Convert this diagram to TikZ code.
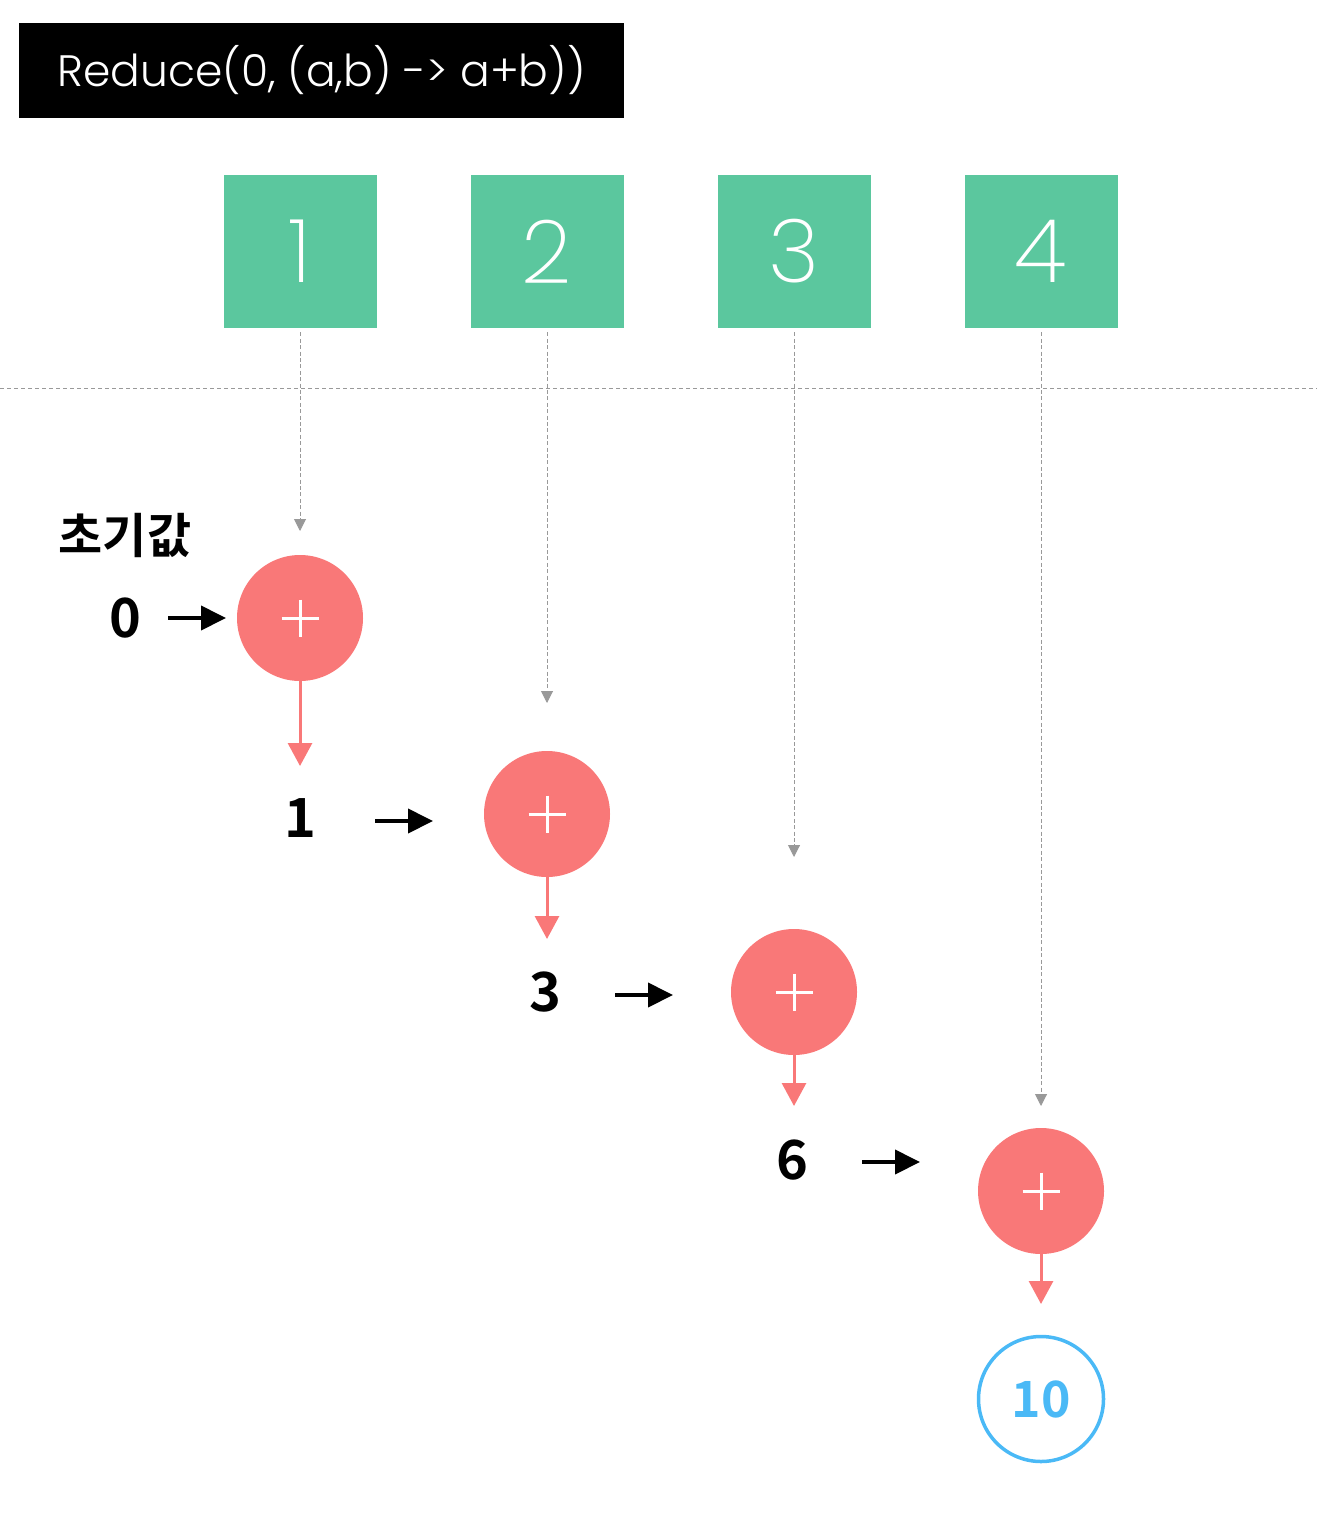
\documentclass[tikz,border=0pt]{standalone}
\usepackage{fontspec}
\setmainfont{Lato}
\newfontfamily\thinfont{Poppins Light}
\newfontfamily\xthinfont{Poppins ExtraLight}
\newfontfamily\krfont{Noto Sans CJK KR Bold}
\usetikzlibrary{arrows.meta}
\definecolor{boxgreen}{HTML}{5BC79E}
\definecolor{opred}{HTML}{F97878}
\definecolor{resblue}{HTML}{4AB9F6}
\definecolor{dashgray}{HTML}{999999}
\tikzset{
  titlebox/.style={fill=black, text=white, minimum width=302.5pt, minimum height=47.5pt, inner sep=0pt, font=\thinfont\fontsize{22}{22}\selectfont},
  numbox/.style={fill=boxgreen, text=white, minimum size=76.5pt, inner sep=0pt, font=\xthinfont\fontsize{44}{44}\selectfont},
  opcircle/.style={circle, fill=opred, minimum size=63pt, inner sep=0pt},
  rescircle/.style={circle, draw=resblue, line width=1.75pt, minimum size=62.5pt, inner sep=0pt, text=resblue, font=\krfont\fontsize{25}{25}\selectfont},
  valtext/.style={font=\krfont\fontsize{27}{27}\selectfont, inner sep=0pt},
  feedarrow/.style={dashgray, line width=0.5pt, dash pattern=on 2pt off 1.2pt, -{Triangle[length=6pt,width=6pt]}},
  resarrow/.style={opred, line width=1.5pt, -{Triangle[length=11.5pt,width=12pt]}},
  inarrow/.style={black, line width=2pt, -{Triangle[length=12.5pt,width=12pt]}},
  plussign/.style={white, line width=1.5pt},
}
\begin{document}
\begin{tikzpicture}[x=0.5pt,y=-0.5pt]
\useasboundingbox (0,0) rectangle (1317,1540);
\node[titlebox] (title) at (321.5,70.5) {Reduce(0, (a,b) -> a+b))};
\node[numbox] (n1) at (300,251.5) {\raisebox{-2pt}{1}};
\node[numbox] (n2) at (547,251.5) {\raisebox{-2pt}{2}};
\node[numbox] (n3) at (794,251.5) {\raisebox{-2pt}{3}};
\node[numbox] (n4) at (1041,251.5) {\raisebox{-2pt}{4}};
\draw[dashgray, line width=0.5pt, dash pattern=on 2pt off 1.5pt] (0,388) coordinate (hl) -- (1317,388) coordinate (hr);
\node[opcircle] (p1) at (300,618) {};
\node[opcircle] (p2) at (547,814) {};
\node[opcircle] (p3) at (794,992) {};
\node[opcircle] (p4) at (1041,1191) {};
\foreach \p in {p1,p2,p3,p4}{
  \draw[plussign] ([xshift=-9.25pt]\p.center) -- ([xshift=9.25pt]\p.center);
  \draw[plussign] ([yshift=9.25pt]\p.center) -- ([yshift=-9.25pt]\p.center);
}
\node[rescircle] (res) at (1041,1399) {10};
\coordinate (t1) at (300,531);
\coordinate (t2) at (547,703);
\coordinate (t3) at (794,857);
\coordinate (t4) at (1041,1106);
\draw[feedarrow] ([yshift=-2pt]n1.south) -- (t1);
\draw[feedarrow] ([yshift=-2pt]n2.south) -- (t2);
\draw[feedarrow] ([yshift=-2pt]n3.south) -- (t3);
\draw[feedarrow] ([yshift=-2pt]n4.south) -- (t4);
\coordinate (r1) at (300,766);
\coordinate (r2) at (547,939);
\coordinate (r3) at (794,1106);
\coordinate (r4) at (1041,1304);
\draw[resarrow] (p1.south) -- (r1);
\draw[resarrow] (p2.south) -- (r2);
\draw[resarrow] (p3.south) -- (r3);
\draw[resarrow] (p4.south) -- (r4);
\node[font=\krfont\fontsize{24}{24}\selectfont, inner sep=0pt] (init) at (125,535) {초기값};
\node[valtext] (v0) at (125,618) {0};
\node[valtext] (v1) at (300,818) {1};
\node[valtext] (v3) at (545,992) {3};
\node[valtext] (v6) at (792,1160) {6};
\coordinate (a0s) at (168,618); \coordinate (a0e) at (226,618);
\coordinate (a1s) at (375,821); \coordinate (a1e) at (433,821);
\coordinate (a3s) at (615,995); \coordinate (a3e) at (673,995);
\coordinate (a6s) at (862,1162); \coordinate (a6e) at (920,1162);
\draw[inarrow] (a0s) -- (a0e);
\draw[inarrow] (a1s) -- (a1e);
\draw[inarrow] (a3s) -- (a3e);
\draw[inarrow] (a6s) -- (a6e);
\end{tikzpicture}
\end{document}
